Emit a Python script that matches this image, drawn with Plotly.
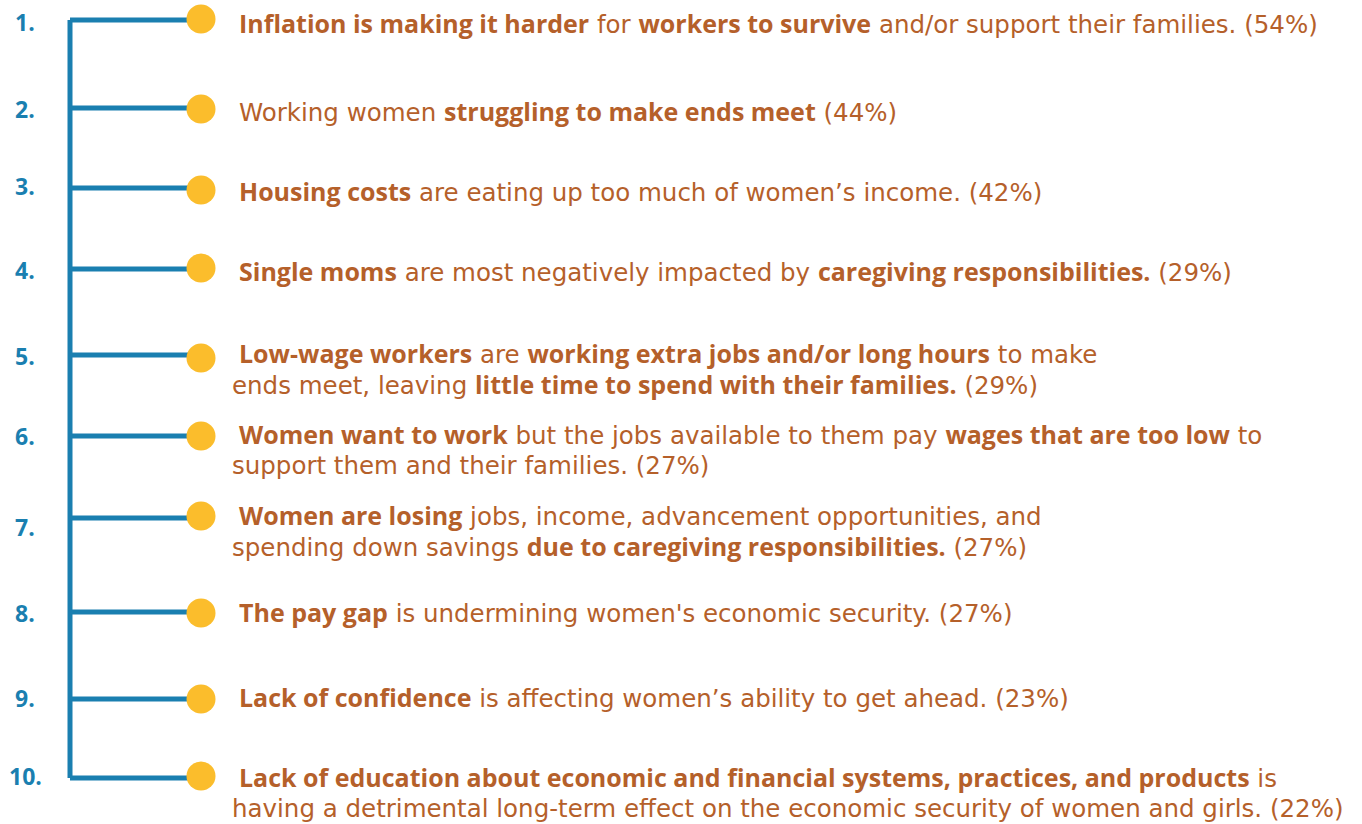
import re
import plotly.graph_objects as go

# ---- data ----
ranks = ["1.", "2.", "3.", "4.", "5.", "6.", "7.", "8.", "9.", "10."]
percentages = [54, 44, 42, 29, 29, 27, 27, 27, 23, 22]
statement_line1 = [
    "<b>Inflation is making it harder</b> for <b>workers to survive</b> and/or support their families.",
    "Working women <b>struggling to make ends meet</b>",
    "<b>Housing costs</b> are eating up too much of women’s income.",
    "<b>Single moms</b> are most negatively impacted by <b>caregiving responsibilities.</b>",
    "<b>Low-wage workers</b> are <b>working extra jobs and/or long hours</b> to make",
    "<b>Women want to work</b> but the jobs available to them pay <b>wages that are too low</b> to",
    "<b>Women are losing</b> jobs, income, advancement opportunities, and",
    "<b>The pay gap</b> is undermining women's economic security.",
    "<b>Lack of confidence</b> is affecting women’s ability to get ahead.",
    "<b>Lack of education about economic and financial systems, practices, and products</b> is",
]
statement_line2 = [
    "", "", "", "",
    "ends meet, leaving <b>little time to spend with their families.</b>",
    "support them and their families.",
    "spending down savings <b>due to caregiving responsibilities.</b>",
    "", "",
    "having a detrimental long-term effect on the economic security of women and girls.",
]

# ---- layout constants (pixel canvas) ----
W, H = 1362, 824
BLUE = "#1a7fb0"
YELLOW = "#fbbd2c"
TEXT = "#b5602a"
BOLD_FONT = "Open Sans"
REG_FONT = "DejaVu Sans"
BOLD_SIZE = 25
REG_SIZE = 24.5
SPINE_X = 70
BRANCH_END_X = 190
DOT_X = 201
NUM_X = 25
TEXT_X1 = 237
TEXT_X2 = 230
branch_y = [20, 108, 188, 269, 355, 436, 518, 612, 699, 778]
dot_y = [19, 109, 190, 268, 358, 436, 516, 613, 699, 776]
num_y = [22, 109, 186, 270, 356, 436, 527, 613, 698, 776]
text_y1 = [23, 111, 191, 271, 353, 434, 515, 612, 697, 777]
LINE_GAP = 31


def styled(markup):
    parts = re.split(r"(<b>.*?</b>)", markup)
    out = []
    for p in parts:
        if not p:
            continue
        if p.startswith("<b>"):
            out.append(p)
        else:
            out.append(f"<span style=\"font-family:{REG_FONT};font-size:{REG_SIZE}px\">{p}</span>")
    return "".join(out)


fig = go.Figure()

# spine
fig.add_trace(go.Scatter(x=[SPINE_X, SPINE_X], y=[branch_y[0], branch_y[-1]], mode="lines",
                         line=dict(color=BLUE, width=5), hoverinfo="skip", showlegend=False))
# branches
bx, by = [], []
for y in branch_y:
    bx += [SPINE_X, BRANCH_END_X, None]
    by += [y, y, None]
fig.add_trace(go.Scatter(x=bx, y=by, mode="lines", line=dict(color=BLUE, width=5),
                         hoverinfo="skip", showlegend=False))
# dots
fig.add_trace(go.Scatter(x=[DOT_X] * len(dot_y), y=dot_y, mode="markers",
                         marker=dict(color=YELLOW, size=29, line=dict(width=0)),
                         hoverinfo="skip", showlegend=False))

annotations = []
for i, r in enumerate(ranks):
    annotations.append(dict(x=NUM_X, y=num_y[i], text=f"<b>{r}</b>", showarrow=False,
                            xanchor="center", yanchor="middle",
                            font=dict(family=BOLD_FONT, size=23, color=BLUE)))
    l1 = statement_line1[i]
    l2 = statement_line2[i]
    pct = f" ({percentages[i]}%)"
    if l2:
        l2 = l2 + pct
    else:
        l1 = l1 + pct
    annotations.append(dict(x=TEXT_X1, y=text_y1[i], text=styled(l1), showarrow=False,
                            xanchor="left", yanchor="middle",
                            font=dict(family=BOLD_FONT, size=BOLD_SIZE, color=TEXT)))
    if l2:
        annotations.append(dict(x=TEXT_X2, y=text_y1[i] + LINE_GAP, text=styled(l2), showarrow=False,
                                xanchor="left", yanchor="middle",
                                font=dict(family=BOLD_FONT, size=BOLD_SIZE, color=TEXT)))

fig.update_layout(
    width=W, height=H,
    margin=dict(l=0, r=0, t=0, b=0),
    paper_bgcolor="white", plot_bgcolor="white",
    xaxis=dict(range=[0, W], visible=False, fixedrange=True),
    yaxis=dict(range=[H, 0], visible=False, fixedrange=True),
    annotations=annotations,
    showlegend=False,
)

fig.write_html("out.html", config={"displayModeBar": False},
               post_script="document.body.style.margin='0';document.body.style.overflow='hidden';")
